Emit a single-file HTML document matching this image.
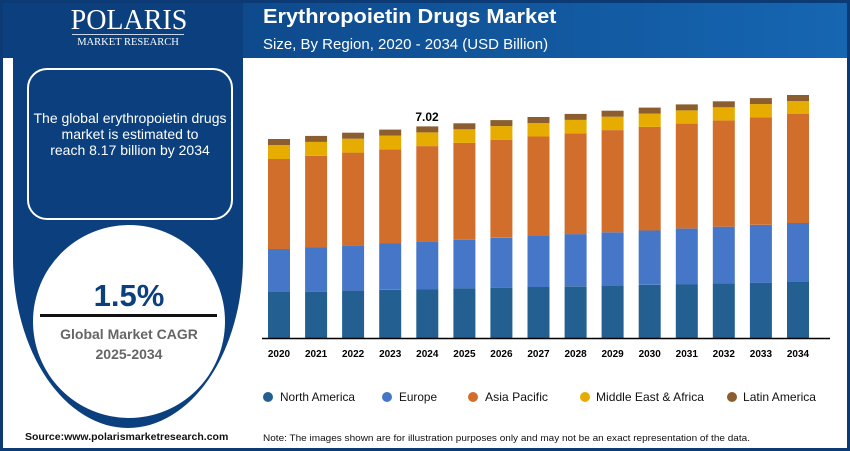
<!DOCTYPE html>
<html><head><meta charset="utf-8"><style>
*{margin:0;padding:0;box-sizing:border-box}
body{width:850px;height:451px;overflow:hidden;background:#fff;font-family:"Liberation Sans",Arial,sans-serif;position:relative}
.abs{position:absolute}
.sx{display:inline-block;transform-origin:0 0;white-space:nowrap}
</style></head><body>
<div class="abs" style="left:0;top:0;width:850px;height:451px;border:3px solid #0b3a75"></div>
<div class="abs" style="left:3px;top:3px;width:844px;height:55px;background:linear-gradient(90deg,#0b3f7d,#1666b2)"></div>
<div class="abs" style="left:13px;top:3px;width:230px;height:425px;background:#0b3f7d;border-radius:0 0 115px 115px/0 0 170px 170px"></div>
<div class="abs" style="left:70px;top:5px;width:118px;text-align:center;color:#fff;font-family:'Liberation Serif',serif;font-size:28px">POLARIS</div>
<div class="abs" style="left:72px;top:34px;width:112px;height:1px;background:#c9d6e6"></div>
<div class="abs" style="left:72px;top:37px;width:112px;text-align:center;color:#fff;font-family:'Liberation Serif',serif;font-size:10.5px">MARKET RESEARCH</div>
<div class="abs" style="left:27px;top:68px;width:206px;height:152px;border:2px solid #fff;border-radius:20px"></div>
<div class="abs" style="left:22px;top:110px;width:216px;text-align:center;color:#fff;font-size:14px;line-height:16px">The global erythropoietin drugs<br>market is estimated to<br>reach 8.17 billion by 2034</div>
<div class="abs" style="left:33px;top:225px;width:192px;height:193px;border-radius:50%;background:#fff"></div>
<div class="abs" style="left:33px;top:278px;width:192px;text-align:center;color:#0b3f7d;font-weight:bold;font-size:31px">1.5%</div>
<div class="abs" style="left:40px;top:314px;width:177px;height:3px;background:#111"></div>
<div class="abs" style="left:33px;top:324px;width:192px;text-align:center;color:#666;font-weight:bold;font-size:14px;line-height:20px">Global Market CAGR<br>2025-2034</div>
<div class="abs" style="left:25px;top:431px;font-size:10.5px;font-weight:bold;color:#111">Source:www.polarismarketresearch.com</div>
<div class="abs" style="left:263px;top:5px;color:#fff;font-weight:bold;font-size:20.5px"><span class="sx" style="transform:scaleX(1.06)">Erythropoietin Drugs Market</span></div>
<div class="abs" style="left:263px;top:36px;color:#fff;font-size:15px">Size, By Region, 2020 - 2034 (USD Billion)</div>
<svg class="abs" style="left:0;top:0" width="850" height="451">
<g id="bars"></g>
<line x1="262" y1="338.5" x2="830" y2="338.5" stroke="#000" stroke-width="1.5"/>
<text x="427" y="121" text-anchor="middle" font-weight="bold" font-size="12" font-family="Liberation Sans">7.02</text>
<g font-family="Liberation Sans" font-size="12" fill="#111">
<circle cx="268" cy="397" r="5" fill="#245f91"/><text x="280" y="401" textLength="75" lengthAdjust="spacingAndGlyphs">North America</text>
<circle cx="387" cy="397" r="5" fill="#4576c8"/><text x="399" y="401" textLength="38" lengthAdjust="spacingAndGlyphs">Europe</text>
<circle cx="473" cy="397" r="5" fill="#d26e2c"/><text x="485" y="401" textLength="63" lengthAdjust="spacingAndGlyphs">Asia Pacific</text>
<circle cx="585" cy="397" r="5" fill="#e6ad00"/><text x="596" y="401" textLength="108" lengthAdjust="spacingAndGlyphs">Middle East &amp; Africa</text>
<circle cx="732" cy="397" r="5" fill="#8c5e2f"/><text x="743" y="401" textLength="73" lengthAdjust="spacingAndGlyphs">Latin America</text>
</g>
<text x="263" y="441" font-family="Liberation Sans" font-size="9.5" fill="#111" textLength="487" lengthAdjust="spacingAndGlyphs">Note: The images shown are for illustration purposes only and may not be an exact representation of the data.</text>
</svg>
<script>
var g=document.getElementById('bars'),s='';
var a=[292,249,159,145,139],b=[282,223,114,101,95],c=['#245f91','#4576c8','#d26e2c','#e6ad00','#8c5e2f'];
for(var i=0;i<15;i++){var x=268+i*37.07,prev=338;
for(var k=0;k<5;k++){var t=a[k]+(b[k]-a[k])*i/14;s+='<rect x="'+x.toFixed(1)+'" y="'+t.toFixed(1)+'" width="22" height="'+(prev-t).toFixed(1)+'" fill="'+c[k]+'"/>';prev=t;}
s+='<text x="'+(x+11).toFixed(1)+'" y="357" text-anchor="middle" font-weight="bold" font-size="10" font-family="Liberation Sans">'+(2020+i)+'</text>';}
g.innerHTML=s;
</script>
</body></html>
